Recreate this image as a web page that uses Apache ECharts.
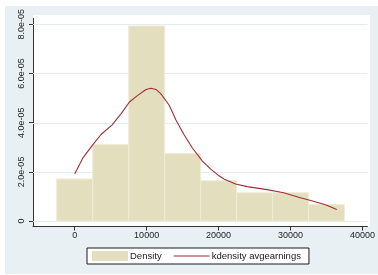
<!DOCTYPE html>
<html>
<head>
<meta charset="utf-8">
<script src="https://cdn.jsdelivr.net/npm/echarts@6/dist/echarts.min.js"></script>
<style>
html,body{margin:0;padding:0;background:#ffffff;width:378px;height:275px;overflow:hidden;}
#bg{position:absolute;left:5px;top:6px;width:373px;height:268px;background:#e9f0f3;}
#plot{position:absolute;left:33px;top:15px;width:337px;height:212px;background:#ffffff;}
#c{position:absolute;left:5px;top:6px;width:373px;height:268px;}
</style>
</head>
<body>
<div id="bg"></div>
<div id="plot"></div>
<div id="c"></div>
<script>
// Histogram bins (avgearnings), bin width 5000
var binStart = [-2500, 2500, 7500, 12500, 17500, 22500, 27500, 32500];
var binEnd   = [2500, 7500, 12500, 17500, 22500, 27500, 32500, 37500];
var density  = [1.71e-5, 3.11e-5, 7.93e-5, 2.75e-5, 1.64e-5, 1.15e-5, 1.15e-5, 6.7e-6];

// kdensity curve
var kdX = [0, 1150, 2530, 3690, 5210, 6460, 7610, 8760, 9920, 10610, 11300, 11990, 13140, 14070, 15210, 16360, 17750, 18910, 20060, 20750, 22370, 23970, 26740, 29050, 31360, 33200, 35040, 36420];
var kdY = [1.91e-5, 2.57e-5, 3.11e-5, 3.53e-5, 3.91e-5, 4.37e-5, 4.84e-5, 5.11e-5, 5.35e-5, 5.40e-5, 5.35e-5, 5.17e-5, 4.71e-5, 4.11e-5, 3.51e-5, 2.97e-5, 2.44e-5, 2.11e-5, 1.84e-5, 1.71e-5, 1.51e-5, 1.40e-5, 1.28e-5, 1.15e-5, 9.5e-6, 8.1e-6, 6.4e-6, 4.7e-6];

var xTicks = [0, 10000, 20000, 30000, 40000];
var yTicks = [0, 2e-5, 4e-5, 6e-5, 8e-5];
var legendNames = ['Density', 'kdensity avgearnings'];

var barData = binStart.map(function (s, i) { return [s, binEnd[i], density[i]]; });
var lineData = kdX.map(function (x, i) { return [x, kdY[i]]; });
var gridData = yTicks.map(function (v) { return [0, v]; });

function fmtY(v) {
  if (Math.abs(v) < 1e-12) return '0';
  var s = v.toExponential(1); // e.g. 8.0e-5
  return s.replace(/e([+-])(\d)$/, 'e$10$2');
}

var chart = echarts.init(document.getElementById('c'), null, {renderer: 'canvas'});
var FONT = 'Liberation Sans';
chart.setOption({
  backgroundColor: 'transparent',
  animation: false,
  textStyle: {fontFamily: FONT},
  grid: {left: 28, top: 9, right: 8, bottom: 47.5, show: false},
  legend: {
    left: 82, top: 242,
    backgroundColor: '#ffffff', borderColor: '#1a1a1a', borderWidth: 1,
    padding: [3, 8, 3, 5],
    itemWidth: 36, itemHeight: 10, itemGap: 12,
    symbolKeepAspect: true,
    textStyle: {fontFamily: FONT, fontSize: 9.5, color: '#1a1a1a', padding: [0, 0, 0, -3]},
    data: [
      {name: legendNames[0], icon: 'rect', itemStyle: {color: '#e3dfbe', borderWidth: 0}},
      {name: legendNames[1], icon: 'path://M0,0H36V1.2H0Z', itemStyle: {color: '#9e2f36', borderWidth: 0}}
    ],
    selectedMode: false
  },
  xAxis: {
    type: 'value', min: -5793, max: 40690,
    axisLine: {show: true, onZero: false, lineStyle: {color: '#333333', width: 1}},
    axisTick: {show: true, length: 4, customValues: xTicks, lineStyle: {color: '#333333'}},
    axisLabel: {customValues: xTicks, fontSize: 9, color: '#222222', margin: 5, fontFamily: FONT,
      formatter: function (v) { return String(Math.round(v)); }},
    splitLine: {show: false}
  },
  yAxis: {
    type: 'value', min: -2.2e-6, max: 8.24e-5,
    axisLine: {show: true, onZero: false, lineStyle: {color: '#333333', width: 1}},
    axisTick: {show: true, length: 4, customValues: yTicks, lineStyle: {color: '#333333'}},
    axisLabel: {customValues: yTicks, rotate: 90, fontSize: 9, color: '#222222', margin: 7, fontFamily: FONT,
      formatter: function (v) { return fmtY(v); }},
    splitLine: {show: false}
  },
  series: [
    {
      name: 'grid', type: 'custom', data: gridData, silent: true,
      encode: {x: 0, y: 1},
      renderItem: function (params, api) {
        var cs = params.coordSys;
        var y = Math.round(api.coord([0, api.value(1)])[1]) + 0.5;
        return {
          type: 'line',
          shape: {x1: cs.x, y1: y, x2: cs.x + cs.width, y2: y},
          style: {stroke: '#e3ebee', lineWidth: 1}
        };
      },
      z: 1
    },
    {
      name: legendNames[0], type: 'custom', data: barData,
      encode: {x: [0, 1], y: 2},
      itemStyle: {color: '#e3dfbe'},
      renderItem: function (params, api) {
        var p0 = api.coord([api.value(0), api.value(2)]);
        var p1 = api.coord([api.value(1), 0]);
        return {
          type: 'rect',
          shape: {x: p0[0], y: p0[1], width: p1[0] - p0[0], height: p1[1] - p0[1]},
          style: {fill: '#e3dfbe', stroke: '#efecd8', lineWidth: 1}
        };
      },
      z: 2
    },
    {
      name: legendNames[1], type: 'line', data: lineData,
      symbol: 'none', smooth: false,
      lineStyle: {color: '#9e2f36', width: 1.1},
      itemStyle: {color: '#9e2f36'},
      z: 3
    }
  ]
});
</script>
</body>
</html>
